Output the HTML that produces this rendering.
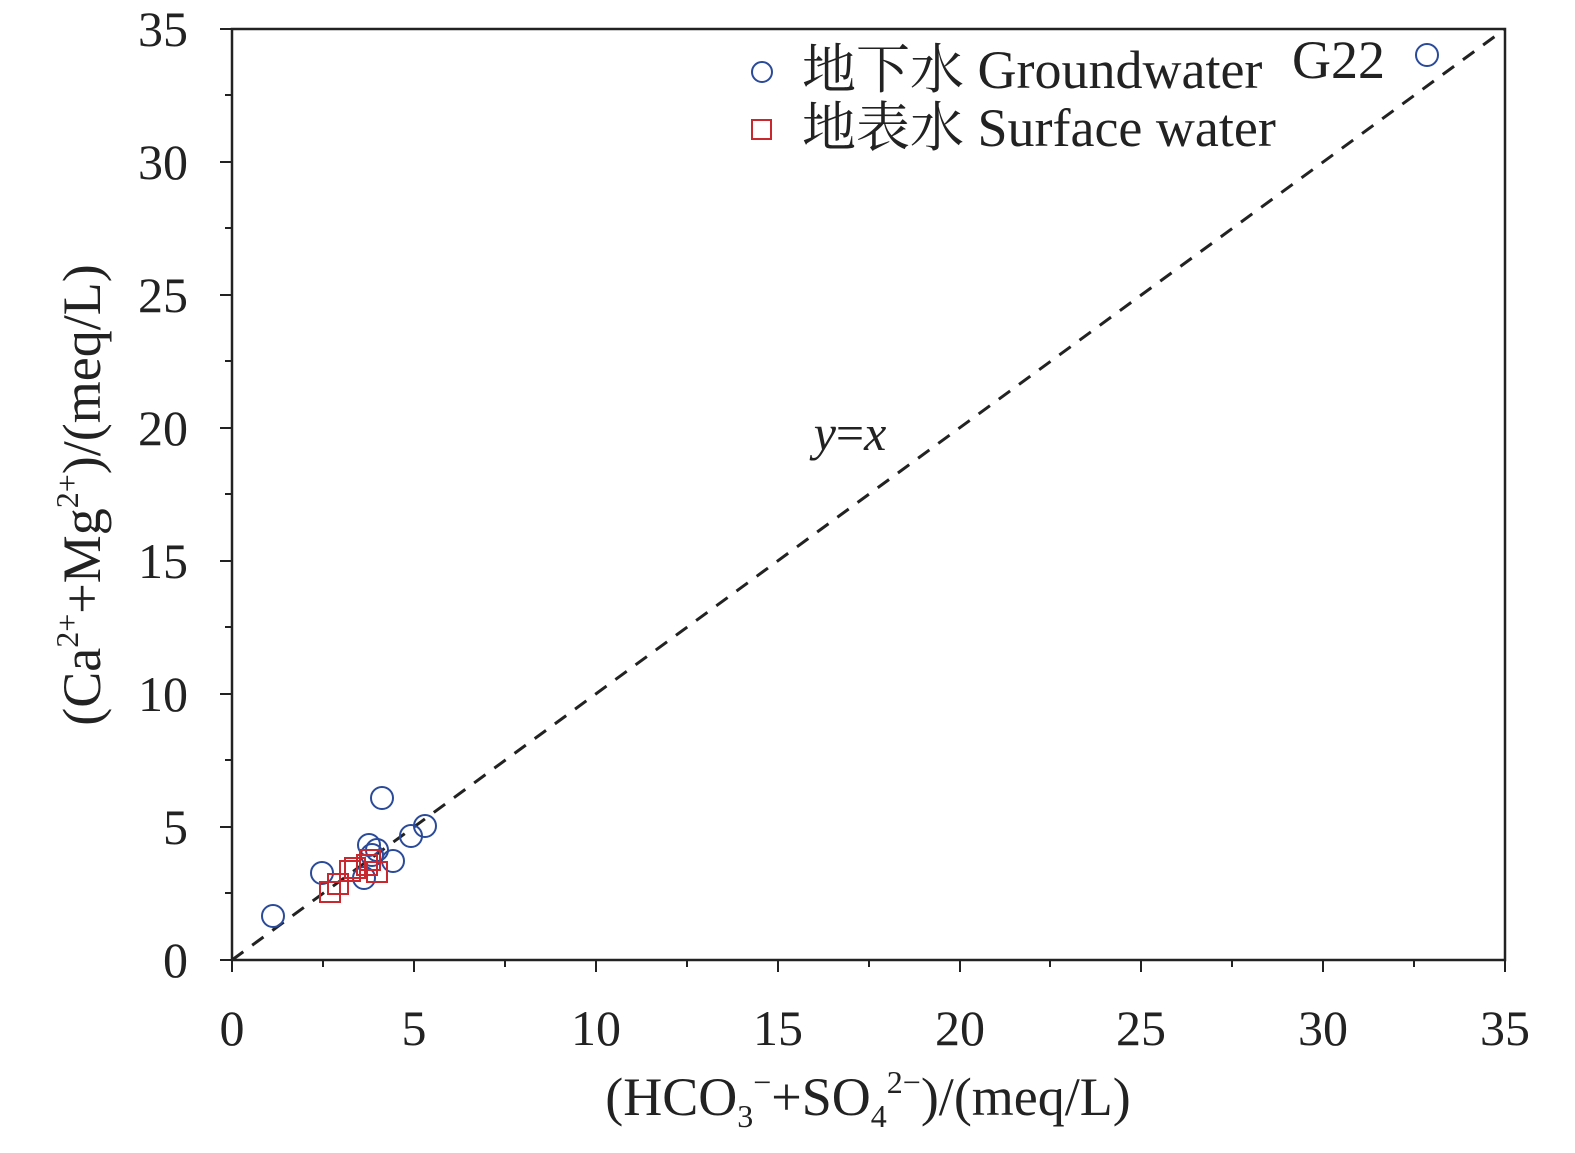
<!DOCTYPE html>
<html><head><style>body{margin:0;background:#fff}</style></head><body>
<svg width="1575" height="1148" xmlns="http://www.w3.org/2000/svg" font-family="'Liberation Serif','Noto Serif CJK SC',serif">
<rect width="1575" height="1148" fill="#fff"/>
<rect x="232" y="29" width="1273" height="931" fill="none" stroke="#222" stroke-width="2.5"/>
<g stroke="#222" stroke-width="2">
<path d="M232 960v12M414 960v12M596 960v12M778 960v12M960 960v12M1141 960v12M1323 960v12M1505 960v12"/>
<path d="M323 960v7M505 960v7M687 960v7M869 960v7M1050 960v7M1232 960v7M1414 960v7"/>
<path d="M232 960h-12M232 827h-12M232 694h-12M232 561h-12M232 428h-12M232 295h-12M232 162h-12M232 29h-12"/>
<path d="M232 893h-7M232 760h-7M232 627h-7M232 494h-7M232 361h-7M232 228h-7M232 95h-7"/>
</g>
<g font-size="50" fill="#222" text-anchor="middle">
<text x="232" y="1045">0</text><text x="414" y="1045">5</text><text x="596" y="1045">10</text><text x="778" y="1045">15</text><text x="960" y="1045">20</text><text x="1141" y="1045">25</text><text x="1323" y="1045">30</text><text x="1505" y="1045">35</text>
</g>
<g font-size="50" fill="#222" text-anchor="end">
<text x="188" y="977">0</text><text x="188" y="844">5</text><text x="188" y="711">10</text><text x="188" y="578">15</text><text x="188" y="445">20</text><text x="188" y="312">25</text><text x="188" y="179">30</text><text x="188" y="46">35</text>
</g>
<text x="868" y="1115" font-size="54" fill="#222" text-anchor="middle">(HCO<tspan font-size="32" dy="12">3</tspan><tspan font-size="32" dy="-34">−</tspan><tspan dy="22">+SO</tspan><tspan font-size="32" dy="12">4</tspan><tspan font-size="32" dy="-34">2−</tspan><tspan dy="22">)/(meq/L)</tspan></text>
<text transform="translate(100,495) rotate(-90)" font-size="54" fill="#222" text-anchor="middle">(Ca<tspan font-size="32" dy="-22">2+</tspan><tspan dy="22">+Mg</tspan><tspan font-size="32" dy="-22">2+</tspan><tspan dy="22">)/(meq/L)</tspan></text>
<line x1="232" y1="960" x2="1505" y2="29" stroke="#222" stroke-width="3" stroke-dasharray="14,11"/>
<text x="850" y="450" font-size="50" fill="#222" text-anchor="middle" font-style="italic">y<tspan font-style="normal">=</tspan>x</text>
<g fill="none" stroke="#2a4a9a" stroke-width="2">
<circle cx="273" cy="916" r="11"/><circle cx="322" cy="873" r="11"/><circle cx="382" cy="798" r="11"/><circle cx="411" cy="836" r="11"/><circle cx="425" cy="826" r="11"/><circle cx="369" cy="845" r="11"/><circle cx="377" cy="850" r="11"/><circle cx="372" cy="855" r="11"/><circle cx="393" cy="861" r="11"/><circle cx="364" cy="878" r="11"/><circle cx="1427" cy="55" r="11"/>
<circle cx="762" cy="72" r="10"/>
</g>
<g fill="none" stroke="#c8282e" stroke-width="2">
<rect x="320" y="882" width="20" height="20"/><rect x="328" y="874" width="20" height="20"/><rect x="340" y="861" width="20" height="20"/><rect x="345" y="858" width="20" height="20"/><rect x="357" y="855" width="20" height="20"/><rect x="367" y="862" width="20" height="20"/><rect x="360" y="850" width="20" height="20"/>
<rect x="752" y="120" width="19" height="19"/>
</g>
<g font-size="54" fill="#222">
<text x="802" y="88">地下水 Groundwater</text>
<text x="802" y="146">地表水 Surface water</text>
<text x="1292" y="78">G22</text>
</g>
</svg>
</body></html>
